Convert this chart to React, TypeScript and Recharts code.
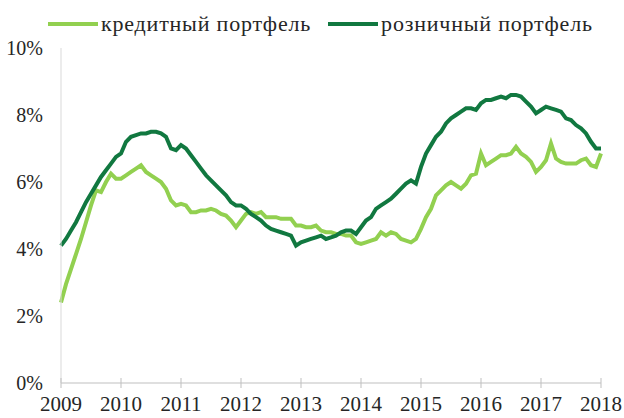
import React from 'react';
import { LineChart, Line, XAxis, YAxis } from 'recharts';

const years = ['2009', '2010', '2011', '2012', '2013', '2014', '2015', '2016', '2017', '2018'];
const yTicks = [0, 2, 4, 6, 8, 10];

// monthly values, Jan 2009 .. Jan 2018, %
const credit = [
  2.4, 2.95, 3.4, 3.85, 4.3, 4.8, 5.3, 5.75, 5.7, 6.0, 6.25, 6.1,
  6.1, 6.2, 6.3, 6.4, 6.5, 6.3, 6.2, 6.1, 6.0, 5.8, 5.45, 5.3,
  5.35, 5.3, 5.1, 5.1, 5.15, 5.15, 5.2, 5.15, 5.05, 5.0, 4.85, 4.65,
  4.85, 5.05, 5.1, 5.05, 5.1, 4.95, 4.95, 4.95, 4.9, 4.9, 4.9, 4.7,
  4.7, 4.65, 4.65, 4.7, 4.55, 4.5, 4.5, 4.45, 4.45, 4.4, 4.4, 4.2,
  4.15, 4.2, 4.25, 4.3, 4.5, 4.4, 4.5, 4.45, 4.3, 4.25, 4.2, 4.3,
  4.6, 4.95, 5.2, 5.6, 5.75, 5.9, 6.0, 5.9, 5.8, 5.95, 6.2, 6.25,
  6.85, 6.5, 6.6, 6.7, 6.8, 6.8, 6.85, 7.05, 6.85, 6.75, 6.6, 6.3,
  6.45, 6.65, 7.15, 6.7, 6.6, 6.55, 6.55, 6.55, 6.65, 6.7, 6.5, 6.45,
  6.85,
];

const retail = [
  4.1, 4.3, 4.55, 4.8, 5.1, 5.4, 5.65, 5.9, 6.15, 6.35, 6.55, 6.75,
  6.85, 7.2, 7.35, 7.4, 7.45, 7.45, 7.5, 7.5, 7.45, 7.35, 7.0, 6.95,
  7.1, 7.0, 6.8, 6.6, 6.4, 6.2, 6.05, 5.9, 5.75, 5.6, 5.4, 5.3,
  5.3, 5.2, 5.05, 4.95, 4.85, 4.7, 4.6, 4.55, 4.5, 4.45, 4.4, 4.1,
  4.2, 4.25, 4.3, 4.35, 4.4, 4.3, 4.35, 4.4, 4.5, 4.55, 4.55, 4.45,
  4.65, 4.85, 4.95, 5.2, 5.3, 5.4, 5.5, 5.65, 5.8, 5.95, 6.05, 5.95,
  6.45, 6.85, 7.1, 7.35, 7.5, 7.75, 7.9, 8.0, 8.1, 8.2, 8.2, 8.15,
  8.35, 8.45, 8.45, 8.5, 8.55, 8.5, 8.6, 8.6, 8.55, 8.4, 8.25, 8.05,
  8.15, 8.25, 8.2, 8.15, 8.1, 7.9, 7.85, 7.7, 7.6, 7.45, 7.2, 7.0,
  7.0,
];

const data = credit.map((v, i) => ({ m: i, credit: v, retail: retail[i] }));
const xTicks = years.map((_, i) => i * 12);

const LIGHT = '#92D050';
const DARK = '#117840';
const FONT = '"Liberation Serif", "DejaVu Serif", serif';

const XTick = (props: any) => {
  const { x, y, payload } = props;
  const axisY = y - 4;
  return (
    <g>
      <line x1={x} x2={x} y1={axisY - 5} y2={axisY + 5} stroke="#BFBFBF" strokeWidth={1} />
      <text x={x} y={y + 24} textAnchor="middle" fontFamily={FONT} fontSize={21} fill="#262626">
        {years[payload.index ?? Math.round(payload.value / 12)]}
      </text>
    </g>
  );
};

export default function App() {
  return (
    <div style={{ position: 'absolute', left: 0, top: 0, width: 624, height: 418, background: '#fff' }}>
      <LineChart width={624} height={418} data={data} margin={{ top: 48, right: 23, bottom: 5, left: 0 }}>
        <XAxis
          dataKey="m"
          type="number"
          domain={[0, 108]}
          ticks={xTicks}
          interval={0}
          tick={<XTick />}
          tickLine={false}
          tickSize={0}
          tickMargin={4}
          height={30}
          axisLine={{ stroke: '#BFBFBF' }}
        />
        <YAxis
          type="number"
          domain={[0, 10]}
          ticks={yTicks}
          interval={0}
          width={61}
          tickLine={false}
          tickSize={0}
          tickMargin={18}
          axisLine={{ stroke: '#D9D9D9' }}
          tickFormatter={(v: number) => `${v}%`}
          tick={{ fontFamily: FONT, fontSize: 20, fill: '#262626' }}
        />
        <Line dataKey="credit" stroke={LIGHT} strokeWidth={4} dot={false} isAnimationActive={false} />
        <Line dataKey="retail" stroke={DARK} strokeWidth={4} dot={false} isAnimationActive={false} />
      </LineChart>
      <div style={{ position: 'absolute', left: 48, top: 10, display: 'flex', alignItems: 'center', height: 28, fontFamily: FONT, fontSize: 22, letterSpacing: 0.8, color: '#262626', whiteSpace: 'nowrap' }}>
        <span style={{ display: 'inline-block', width: 50, height: 4, background: LIGHT, marginRight: 3 }} />
        <span>кредитный портфель</span>
        <span style={{ display: 'inline-block', width: 50, height: 4, background: DARK, marginLeft: 17, marginRight: 3 }} />
        <span>розничный портфель</span>
      </div>
    </div>
  );
}
